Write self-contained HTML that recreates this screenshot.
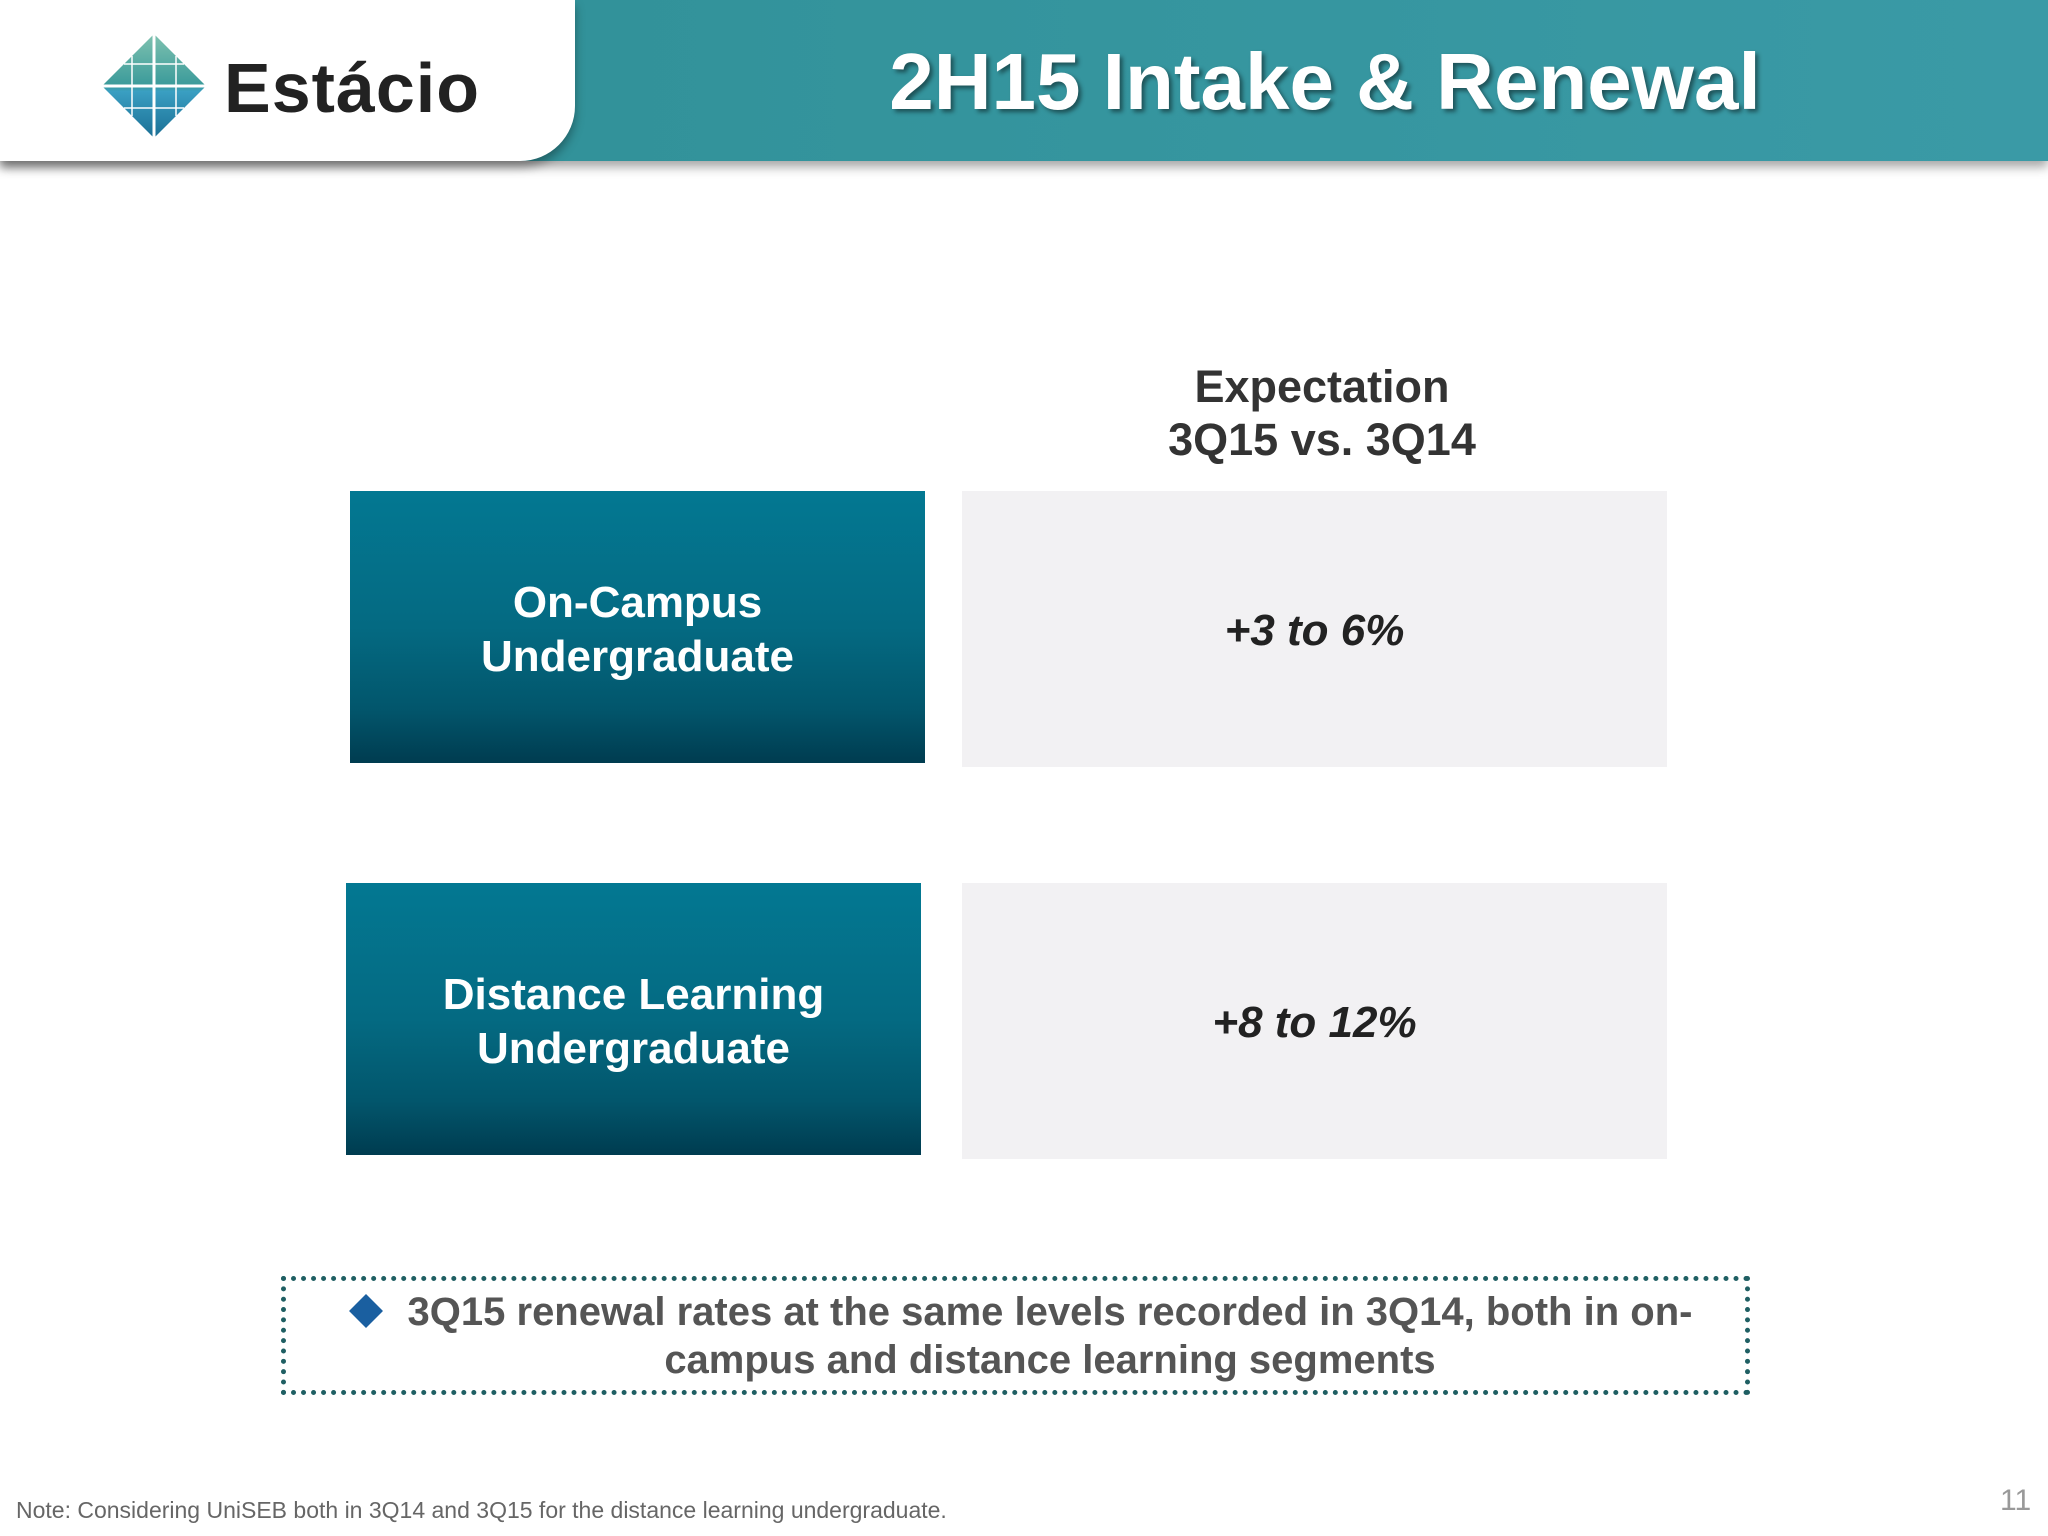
<!DOCTYPE html>
<html><head><meta charset="utf-8"><style>
body{margin:0;width:2048px;height:1536px;position:relative;background:#fff;font-family:"Liberation Sans",sans-serif;overflow:hidden}
div{position:absolute;box-sizing:border-box}
.blue{background:linear-gradient(#037892 0%,#046a82 50%,#02566c 80%,#003c50 100%);color:#fff;font-weight:bold;font-size:44px;text-align:center;display:flex;align-items:center;justify-content:center;line-height:54px}
.gray{background:#f2f1f3;color:#222;font-weight:bold;font-style:italic;font-size:44px;display:flex;align-items:center;justify-content:center}
</style></head><body>
<div style="left:0;top:0;width:2048px;height:161px;background:linear-gradient(90deg,#2f8f95,#3a9aa6);box-shadow:0 6px 10px rgba(0,0,0,0.35)"></div>
<div style="left:0;top:0;width:575px;height:161px;background:#fff;border-bottom-right-radius:55px;box-shadow:0 6px 10px rgba(0,0,0,0.35)"></div>
<svg style="position:absolute;left:100px;top:32px" width="108" height="108" viewBox="0 0 108 108">
<defs><linearGradient id="g" x1="0" y1="0" x2="0" y2="1"><stop offset="0" stop-color="#7fc2b0"/><stop offset="0.5" stop-color="#3a9a9a"/><stop offset="0.55" stop-color="#3a9fc2"/><stop offset="1" stop-color="#1b6f95"/></linearGradient></defs>
<polygon points="54,2 106,54 54,106 2,54" fill="url(#g)"/>
<line x1="54" y1="2" x2="54" y2="106" stroke="#fff" stroke-width="3"/><line x1="2" y1="54" x2="106" y2="54" stroke="#fff" stroke-width="3"/>
<line x1="32" y1="24" x2="32" y2="84" stroke="#fff" stroke-width="1.5"/><line x1="76" y1="24" x2="76" y2="84" stroke="#fff" stroke-width="1.5"/>
<line x1="24" y1="32" x2="84" y2="32" stroke="#fff" stroke-width="1.5"/><line x1="24" y1="76" x2="84" y2="76" stroke="#fff" stroke-width="1.5"/></svg>
<div style="left:224px;top:48px;font-size:70px;font-weight:bold;color:#222;letter-spacing:1px">Estácio</div>
<div style="left:700px;top:36px;width:1250px;text-align:center;font-size:80px;font-weight:bold;color:#fff;text-shadow:3px 3px 4px rgba(0,0,0,0.45)">2H15 Intake &amp; Renewal</div>
<div style="left:1022px;top:360px;width:600px;text-align:center;font-size:45px;font-weight:bold;color:#333;line-height:53px">Expectation<br>3Q15 vs. 3Q14</div>
<div class="blue" style="left:350px;top:491px;width:575px;height:272px;padding-top:6px">On-Campus<br>Undergraduate</div>
<div class="gray" style="left:962px;top:491px;width:705px;height:276px;padding-top:4px">+3 to 6%</div>
<div class="blue" style="left:346px;top:883px;width:575px;height:272px;padding-top:6px">Distance Learning<br>Undergraduate</div>
<div class="gray" style="left:962px;top:883px;width:705px;height:276px;padding-top:4px">+8 to 12%</div>
<div style="left:281px;top:1276px;width:1469px;height:119px;border:5px dotted #1f5f63"></div>
<div style="left:354px;top:1299px;width:24px;height:24px;background:#1a5fa0;transform:rotate(45deg)"></div>
<div style="left:370px;top:1288px;width:1360px;text-align:center;font-size:40px;font-weight:bold;color:#555;line-height:48px">3Q15 renewal rates at the same levels recorded in 3Q14, both in on-<br>campus and distance learning segments</div>
<div style="left:16px;top:1497px;font-size:23px;color:#666">Note: Considering UniSEB both in 3Q14 and 3Q15 for the distance learning undergraduate.</div>
<div style="left:2000px;top:1484px;font-size:30px;color:#999">11</div>
</body></html>
